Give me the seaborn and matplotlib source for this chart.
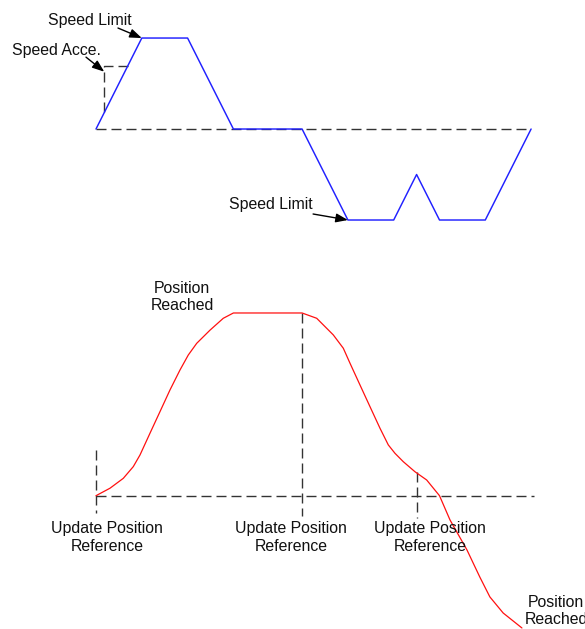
import numpy as np
import pandas as pd
import seaborn as sns
import matplotlib.pyplot as plt

# speed profile (time units, speed normalised to the limit)
speed_t = [0, 1, 2, 3, 4.5, 5.5, 6.5, 7, 7.5, 8.5, 9.5]
speed_v = [0, 1, 1, 0, 0, -1, -1, -0.5, -1, -1, 0]

# speed accel marker corner
acce_t = [0.69, 0.18, 0.18]
acce_v = [0.69, 0.69, 0.15]

# position curve (normalised to the first target)
pos_t = [0, 0.306, 0.596, 0.814, 0.961, 1.179, 1.397, 1.616, 1.834, 2.015, 2.199,
         2.489, 2.779, 3.0,
         4.5, 4.819, 5.181, 5.400, 5.546, 5.764, 5.983, 6.201, 6.382, 6.528, 6.710,
         6.965, 7.220, 7.50,
         7.73, 8.10, 8.38, 8.60, 8.89, 9.30]
pos_p = [0, 0.041, 0.095, 0.159, 0.223, 0.342, 0.460, 0.579, 0.688, 0.770, 0.834,
         0.906, 0.971, 1.0,
         1.0, 0.971, 0.880, 0.807, 0.725, 0.606, 0.487, 0.369, 0.278, 0.232, 0.186,
         0.131, 0.086, 0.0,
         -0.133, -0.297, -0.445, -0.554, -0.642, -0.724]

# position reference updates: time, top of marker, bottom of marker
update_t = [0, 4.5, 7.0]
update_top = [0.25, 1.0, 0.13]
update_bottom = [-0.095, -0.111, -0.122]
update_label = "Update Position\nReference"
reached_label = "Position\nReached"
limit_label = "Speed Limit"
acce_label = "Speed Acce."

sns.set_style("white")
plt.rcParams['font.family'] = ['Liberation Sans', 'DejaVu Sans']

fig = plt.figure(figsize=(5.85, 6.29), dpi=100)
ax_v = fig.add_axes([0, 0, 1, 1])
ax_p = fig.add_axes([0, 0, 1, 1])
for ax in (ax_v, ax_p):
    ax.set_xlim(-2.096, 10.677)
    ax.axis("off")
    ax.patch.set_alpha(0)
ax_v.set_ylim(-5.495, 1.418)
ax_p.set_ylim(-0.7296, 2.713)

dash = dict(color="#333333", lw=1.0, ls=(0, (7.2, 3.6)))
txt = dict(fontsize=11.4, color="#111111", ha="center", va="center")
arr = dict(arrowstyle="-|>,head_length=0.4,head_width=0.15", color="black",
           lw=1.0, shrinkA=0, shrinkB=0, mutation_scale=18)

# top: speed
ax_v.plot([speed_t[0], speed_t[-1]], [0, 0], **dash)
ax_v.plot(acce_t, acce_v, **dash)
sns.lineplot(x=speed_t, y=speed_v, ax=ax_v, color="#2020ff", lw=1.05,
             sort=False, estimator=None)

ax_v.text(-0.131, 1.198, limit_label, **txt)
ax_v.annotate("", xy=(1.0, 1.0), xytext=(0.48, 1.11), arrowprops=arr)
ax_v.text(-0.873, 0.868, acce_label, **txt)
ax_v.annotate("", xy=(0.18, 0.63), xytext=(-0.218, 0.79), arrowprops=arr)
ax_v.text(3.82, -0.835, limit_label, **txt)
ax_v.annotate("", xy=(5.5, -1.0), xytext=(4.74, -0.934), arrowprops=arr)

# bottom: position
ax_p.plot([0, 9.56], [0, 0], **dash)
for t, top, bot in zip(update_t, update_top, update_bottom):
    ax_p.plot([t, t], [top, bot], **dash)
sns.lineplot(x=pos_t, y=pos_p, ax=ax_p, color="#ff1010", lw=0.9,
             sort=False, estimator=None)

for x in (0.24, 4.26, 7.29):
    ax_p.text(x, -0.229, update_label, **txt)
ax_p.text(1.88, 1.088, reached_label, **txt)
ax_p.text(10.05, -0.631, reached_label, **txt)

fig.savefig("out.png", dpi=100)
